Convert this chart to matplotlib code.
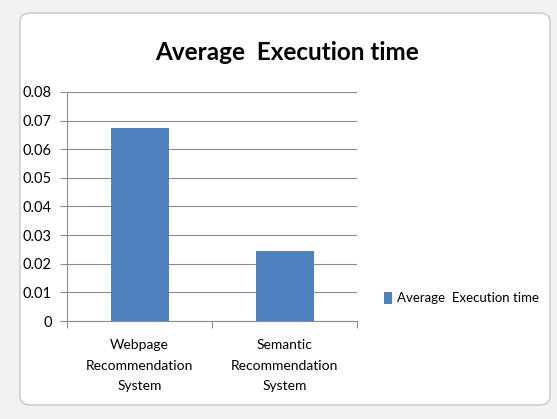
import matplotlib.pyplot as plt
from matplotlib.patches import FancyBboxPatch

categories = ["Webpage\nRecommendation\nSystem", "Semantic\nRecommendation\nSystem"]
exec_time = [0.0674, 0.0245]
yticks = [0, 0.01, 0.02, 0.03, 0.04, 0.05, 0.06, 0.07, 0.08]
ytick_labels = ["0", "0.01", "0.02", "0.03", "0.04", "0.05", "0.06", "0.07", "0.08"]
series_name = "Average  Execution time"

plt.rcParams['font.family'] = ['Lato', 'DejaVu Sans']

fig = plt.figure(figsize=(5.57, 4.19), dpi=100)
fig.patch.set_facecolor('#f2f2f2')

# chart frame (excel style)
frame = FancyBboxPatch((20 / 557, 14 / 419), 530 / 557, 392 / 419,
                       boxstyle="round,pad=0,rounding_size=0.02",
                       transform=fig.transFigure, facecolor='white',
                       edgecolor='#c8c8c8', linewidth=1.0, zorder=-5)
fig.patches.append(frame)

ax = fig.add_axes([67 / 557, 1 - 321 / 419, 290 / 557, 229 / 419])
ax.set_facecolor('none')
ax.set_zorder(2)

x = range(len(exec_time))
bars = ax.bar(x, exec_time, width=0.4, color='#4f81bd', zorder=3, label=series_name)

ax.set_xlim(-0.5, 1.5)
ax.set_ylim(0, 0.08)
ax.set_yticks(yticks)
ax.set_yticklabels(ytick_labels, fontsize=10.5)
ax.yaxis.grid(True, color='#8c8c8c', linewidth=0.8, zorder=0)
ax.set_axisbelow(True)

ax.set_xticks([-0.5, 0.5, 1.5])
ax.set_xticklabels([])
ax.set_xticks(list(x), minor=True)
ax.set_xticklabels(categories, minor=True, fontsize=10, linespacing=1.85)
ax.tick_params(axis='x', which='minor', length=0, pad=13)
ax.tick_params(axis='x', which='major', length=5, color='#8c8c8c', direction='out')
ax.tick_params(axis='y', length=5, color='#8c8c8c', direction='out', pad=6)

for side in ['top', 'right']:
    ax.spines[side].set_visible(False)
ax.spines['left'].set_color('#8c8c8c')
ax.spines['bottom'].set_color('#8c8c8c')

fig.text(287 / 557, 1 - 53 / 419, series_name, ha='center', va='center',
         fontsize=17.5, fontweight='bold')

fig.legend(handles=[bars], labels=[series_name], loc='center left',
           bbox_to_anchor=(372 / 557, 1 - 298 / 419), frameon=False,
           fontsize=9.5, handlelength=0.6, handleheight=1.0, handletextpad=0.4)

plt.savefig("out.png", dpi=100)
